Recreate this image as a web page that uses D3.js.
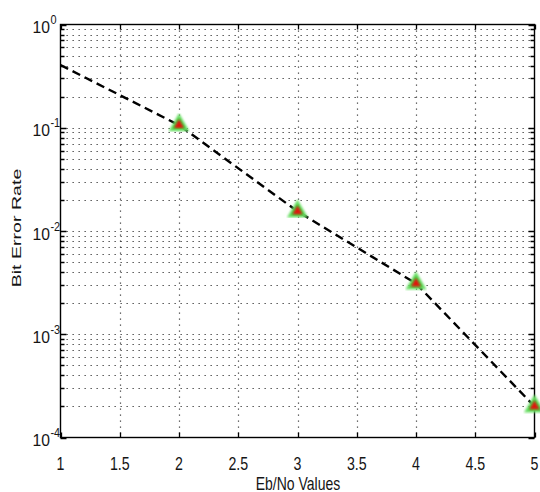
<!DOCTYPE html>
<html>
<head>
<meta charset="utf-8">
<script src="https://cdn.jsdelivr.net/npm/d3@7"></script>
<style>
  html, body { margin: 0; padding: 0; background: #fff; }
  svg text { font-family: "Liberation Sans", Arial, sans-serif; fill: #151515; }
</style>
</head>
<body>
<svg id="chart" width="540" height="492"></svg>
<script>
// ---- data ----
const ebno = [1, 2, 3, 4, 5];
const berLine = [0.405, 0.106, 0.0155, 0.0031, 0.0002];
const markerX = [2, 3, 4, 5];
const markerBer = [0.106, 0.0155, 0.0031, 0.0002];
const xTicks = [1, 1.5, 2, 2.5, 3, 3.5, 4, 4.5, 5];
const xTickLabels = ["1", "1.5", "2", "2.5", "3", "3.5", "4", "4.5", "5"];
const yDecades = [1, 0.1, 0.01, 0.001, 0.0001];
const yExponents = ["0", "-1", "-2", "-3", "-4"];
const xLabel = "Eb/No Values";
const yLabel = "Bit Error Rate";

// ---- layout ----
const svg = d3.select("#chart");
const L = 60.5, R = 534.5, T = 24.5, B = 437.5;
const x = d3.scaleLinear().domain([1, 5]).range([L, R]);
const y = d3.scaleLog().domain([1e-4, 1]).range([B, T]);

const minors = [];
for (let k = -4; k < 0; k++) for (let m = 2; m <= 9; m++) minors.push(m * Math.pow(10, k));

const g = svg.append("g");

// grid: horizontal dotted (major + minor)
g.selectAll(".hgrid").data(minors.concat(yDecades.filter(d => d < 1 && d > 1e-4)))
  .enter().append("line")
  .attr("x1", L).attr("x2", R)
  .attr("y1", d => Math.round(y(d)) + 0.5).attr("y2", d => Math.round(y(d)) + 0.5)
  .attr("stroke", "#111").attr("stroke-width", 1.2)
  .attr("stroke-dasharray", "1.3,4.7").attr("opacity", 0.8);

// grid: vertical dotted
g.selectAll(".vgrid").data(xTicks.filter(d => d > 1 && d < 5))
  .enter().append("line")
  .attr("x1", d => Math.round(x(d)) + 0.5).attr("x2", d => Math.round(x(d)) + 0.5)
  .attr("y1", T).attr("y2", B)
  .attr("stroke", "#111").attr("stroke-width", 1.2)
  .attr("stroke-dasharray", "1.3,4.7").attr("opacity", 0.8);

// box
g.append("rect").attr("x", L).attr("y", T).attr("width", R - L).attr("height", B - T)
  .attr("fill", "none").attr("stroke", "#000").attr("stroke-width", 1.4);

// ticks x (bottom and top, inward)
xTicks.forEach(d => {
  const px = Math.round(x(d)) + 0.5;
  g.append("line").attr("x1", px).attr("x2", px).attr("y1", B).attr("y2", B - 5).attr("stroke", "#000").attr("stroke-width", 1.3);
  g.append("line").attr("x1", px).attr("x2", px).attr("y1", T).attr("y2", T + 5).attr("stroke", "#000").attr("stroke-width", 1.3);
});
// ticks y major and minor (left and right)
yDecades.forEach(d => {
  const py = Math.round(y(d)) + 0.5;
  g.append("line").attr("x1", L).attr("x2", L + 6).attr("y1", py).attr("y2", py).attr("stroke", "#000").attr("stroke-width", 1.5);
  g.append("line").attr("x1", R).attr("x2", R - 6).attr("y1", py).attr("y2", py).attr("stroke", "#000").attr("stroke-width", 1.5);
});
minors.forEach(d => {
  const py = Math.round(y(d)) + 0.5;
  g.append("line").attr("x1", L).attr("x2", L + 4).attr("y1", py).attr("y2", py).attr("stroke", "#000").attr("stroke-width", 1.5);
  g.append("line").attr("x1", R).attr("x2", R - 4).attr("y1", py).attr("y2", py).attr("stroke", "#000").attr("stroke-width", 1.5);
});

// x tick labels
g.selectAll(".xtl").data(xTicks).enter().append("text")
  .attr("transform", d => `translate(${x(d)},469.5) scale(0.86,1.1)`)
  .attr("text-anchor", "middle").attr("font-size", 16.5)
  .text((d, i) => xTickLabels[i]);

// y tick labels: 10^k
yDecades.forEach((d, i) => {
  const py = y(d);
  const t = g.append("text").attr("font-size", 16.5)
    .attr("transform", `translate(32.5,${py + 8.5}) scale(0.95,1.05)`);
  t.append("tspan").text("10");
  t.append("tspan").attr("font-size", 11.5).attr("dy", -8.5).attr("dx", 0.5).text(yExponents[i]);
});

// axis labels
svg.append("text").attr("text-anchor", "middle").attr("font-size", 14)
  .attr("transform", `translate(${(L + R) / 2 + 0.5},489.5) scale(1,1.25)`)
  .text(xLabel);
svg.append("text").attr("text-anchor", "middle").attr("font-size", 14)
  .attr("transform", `translate(21,228) rotate(-90) scale(1.4,0.95)`)
  .text(yLabel);

// line
const line = d3.line().x((d, i) => x(ebno[i])).y(d => y(d));
svg.append("path").datum(berLine).attr("d", line)
  .attr("fill", "none").attr("stroke", "#000").attr("stroke-width", 2.4)
  .attr("stroke-dasharray", "8.5,5");

// markers
const defs = svg.append("defs");
defs.append("filter").attr("id", "blur").append("feGaussianBlur").attr("stdDeviation", 0.8);
const tri = d3.symbol().type(d3.symbolTriangle);
const mk = svg.append("g").selectAll("g").data(markerBer).enter().append("g")
  .attr("transform", (d, i) => `translate(${x(markerX[i])},${y(d)})`);
mk.append("path").attr("d", tri.size(135)()).attr("fill", "#3ecf3a").attr("stroke", "#6fe06a")
  .attr("stroke-width", 2).attr("filter", "url(#blur)");
mk.append("path").attr("d", tri.size(45)()).attr("fill", "#e0140f").attr("filter", "url(#blur)");
</script>
</body>
</html>
